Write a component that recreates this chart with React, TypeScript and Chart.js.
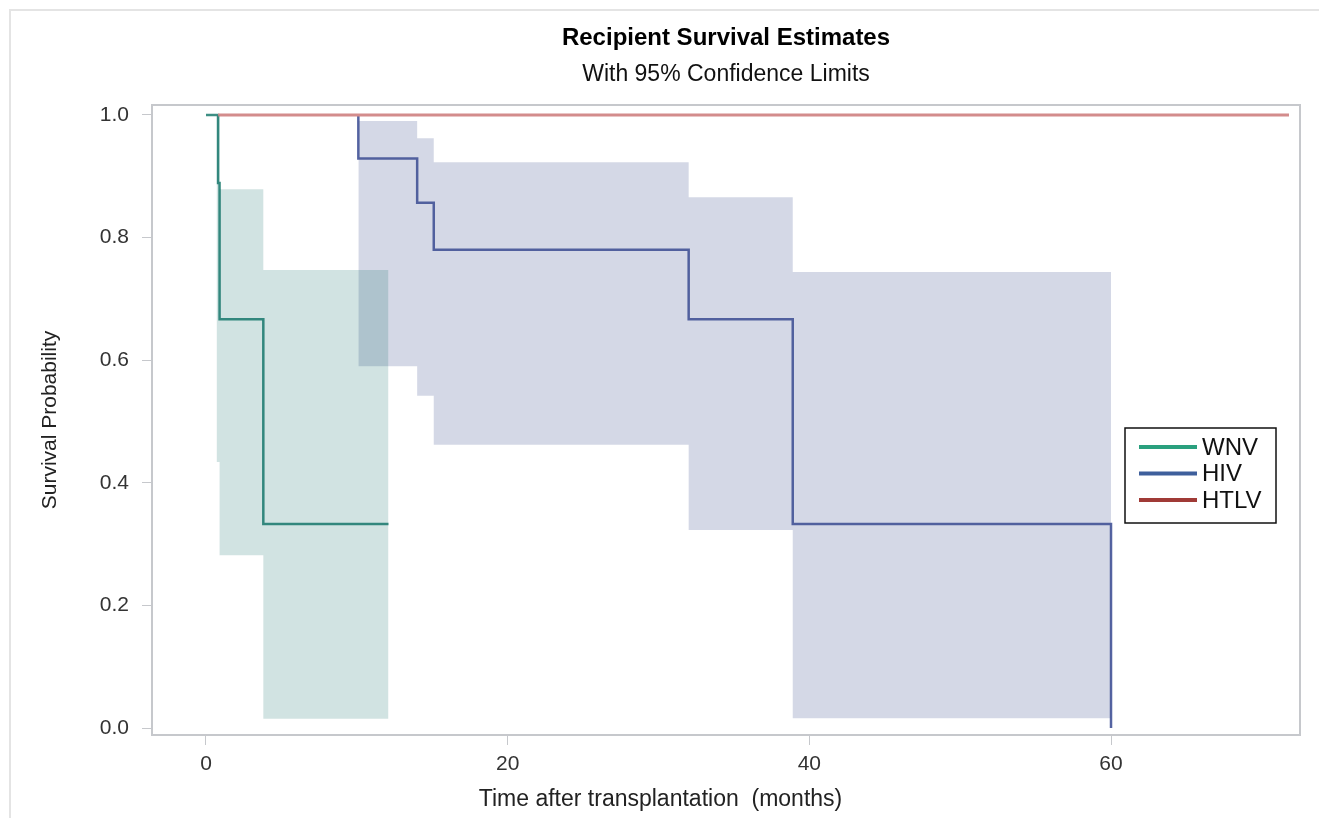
import React, { useEffect, useRef } from "react";
import { Chart, registerables } from "chart.js";

Chart.register(...registerables);

// ---- data ----
const wnvTimes = [0, 0.8, 0.9, 3.8, 12.1];
const wnvSurv = [1.0, 0.889, 0.667, 0.333, 0.333];
const wnvCiTimes = [0.7, 0.9, 3.8, 12.1];
const wnvCiUpper = [1.0, 0.879, 0.747, 0.747];
const wnvCiLower = [0.434, 0.282, 0.015, 0.015];

const hivTimes = [10.1, 10.1, 14.0, 15.1, 32.0, 38.9, 60.0, 60.0];
const hivSurv = [1.0, 0.929, 0.857, 0.78, 0.667, 0.333, 0.333, 0.0];
const hivCiTimes = [10.1, 14.0, 15.1, 32.0, 38.9, 60.0];
const hivCiUpper = [0.99, 0.962, 0.923, 0.866, 0.744, 0.744];
const hivCiLower = [0.59, 0.542, 0.462, 0.323, 0.016, 0.016];

const htlvTimes = [0.8, 71.8];
const htlvSurv = [1.0, 1.0];

const xTicks = [0, 20, 40, 60];
const yTicks = [0, 0.2, 0.4, 0.6, 0.8, 1.0];
const legendLabels = ["WNV", "HIV", "HTLV"];
const legendColors = ["#2aa07e", "#3e5f9c", "#a03a36"];
const xAxisTitle = "Time after transplantation  (months)";

const FONT = "'Liberation Sans', Arial, sans-serif";

const pts = (xs: number[], ys: number[]) => xs.map((x, i) => ({ x, y: ys[i] }));

const framePlugin = {
  id: "frame",
  afterDatasetsDraw(chart: any) {
    const { ctx, chartArea: a } = chart;
    ctx.save();
    ctx.strokeStyle = "#c6c8cc";
    ctx.lineWidth = 2;
    ctx.strokeRect(a.left, a.top, a.right - a.left, a.bottom - a.top);
    ctx.restore();
  },
};

const xTitlePlugin = {
  id: "xTitle",
  afterDraw(chart: any) {
    const { ctx, width } = chart;
    ctx.save();
    ctx.font = `23px ${FONT}`;
    ctx.fillStyle = "#222";
    ctx.textAlign = "center";
    ctx.textBaseline = "middle";
    ctx.fillText(xAxisTitle, width / 2 + 1, 800);
    ctx.restore();
  },
};

const legendPlugin = {
  id: "customLegend",
  afterDraw(chart: any) {
    const { ctx } = chart;
    const bx = 1125, by = 428, bw = 151, bh = 95;
    ctx.save();
    ctx.fillStyle = "#ffffff";
    ctx.fillRect(bx, by, bw, bh);
    ctx.strokeStyle = "#111";
    ctx.lineWidth = 1.5;
    ctx.strokeRect(bx, by, bw, bh);
    ctx.font = `24px ${FONT}`;
    ctx.textBaseline = "middle";
    legendLabels.forEach((lab, i) => {
      const yy = by + 19 + i * 26.5;
      ctx.strokeStyle = legendColors[i];
      ctx.lineWidth = 4;
      ctx.beginPath();
      ctx.moveTo(bx + 14, yy);
      ctx.lineTo(bx + 72, yy);
      ctx.stroke();
      ctx.fillStyle = "#111";
      ctx.fillText(lab, bx + 77, yy + 1);
    });
    ctx.restore();
  },
};

export default function App() {
  const ref = useRef<HTMLCanvasElement | null>(null);
  useEffect(() => {
    document.body.style.margin = "0";
    if (!ref.current) return;
    const chart = new Chart(ref.current, {
      type: "line",
      data: {
        datasets: [
          {
            label: "WNV CI upper",
            data: pts(wnvCiTimes, wnvCiUpper),
            stepped: "before",
            borderWidth: 0,
            borderColor: "rgba(0,0,0,0)",
            backgroundColor: "rgba(1,102,94,0.18)",
            pointRadius: 0,
            fill: "+1",
          },
          {
            label: "WNV CI lower",
            data: pts(wnvCiTimes, wnvCiLower),
            stepped: "before",
            borderWidth: 0,
            borderColor: "rgba(0,0,0,0)",
            pointRadius: 0,
            fill: false,
          },
          {
            label: "HIV CI upper",
            data: pts(hivCiTimes, hivCiUpper),
            stepped: "before",
            borderWidth: 0,
            borderColor: "rgba(0,0,0,0)",
            backgroundColor: "rgba(68,86,148,0.23)",
            pointRadius: 0,
            fill: "+1",
          },
          {
            label: "HIV CI lower",
            data: pts(hivCiTimes, hivCiLower),
            stepped: "before",
            borderWidth: 0,
            borderColor: "rgba(0,0,0,0)",
            pointRadius: 0,
            fill: false,
          },
          {
            label: "HTLV",
            data: pts(htlvTimes, htlvSurv),
            stepped: "before",
            borderWidth: 3,
            borderColor: "#d38c8c",
            pointRadius: 0,
            fill: false,
          },
          {
            label: "WNV",
            data: pts(wnvTimes, wnvSurv),
            stepped: "before",
            borderWidth: 2.5,
            borderColor: "#3d8f84",
            pointRadius: 0,
            fill: false,
          },
          {
            label: "HIV",
            data: pts(hivTimes, hivSurv),
            stepped: "before",
            borderWidth: 2.5,
            borderColor: "#5564a2",
            pointRadius: 0,
            fill: false,
          },
        ],
      },
      options: {
        animation: false,
        responsive: true,
        maintainAspectRatio: false,
        layout: { padding: { left: 30, right: 19, top: 0, bottom: 0 } },
        plugins: {
          legend: { display: false },
          tooltip: { enabled: false },
          title: {
            display: true,
            fullSize: false,
            text: "Recipient Survival Estimates",
            color: "#000",
            font: { family: FONT, size: 24, weight: "bold" },
            padding: { top: 23.6, bottom: 8.8 },
          },
          subtitle: {
            display: true,
            fullSize: false,
            text: "With 95% Confidence Limits",
            color: "#111",
            font: { family: FONT, size: 23 },
            padding: { top: 0, bottom: 16.2 },
          },
        },
        scales: {
          x: {
            type: "linear",
            min: -3.58,
            max: 72.53,
            grid: { display: true, drawOnChartArea: false, drawTicks: true, tickLength: 10, color: "#c6c8cc" },
            border: { display: false },
            ticks: { font: { family: FONT, size: 21 }, color: "#333", padding: 7 },
            afterBuildTicks: (s: any) => {
              s.ticks = xTicks.map((v) => ({ value: v }));
            },
            afterFit: (s: any) => {
              s.height = 83;
            },
            title: { display: false },
          },
          y: {
            type: "linear",
            min: -0.0114,
            max: 1.0163,
            grid: { display: true, drawOnChartArea: false, drawTicks: true, tickLength: 10, color: "#c6c8cc" },
            border: { display: false },
            ticks: {
              font: { family: FONT, size: 21 },
              color: "#333",
              padding: 13,
              callback: (v: any) => Number(v).toFixed(1),
            },
            afterBuildTicks: (s: any) => {
              s.ticks = yTicks.map((v) => ({ value: v }));
            },
            afterFit: (s: any) => {
              s.width = 122;
            },
            title: {
              display: true,
              text: "Survival Probability",
              color: "#222",
              font: { family: FONT, size: 21 },
              padding: { top: 7.4, bottom: 0 },
            },
          },
        },
      },
      plugins: [framePlugin, legendPlugin, xTitlePlugin],
    } as any);
    return () => chart.destroy();
  }, []);

  return (
    <div style={{ position: "relative", width: 1319, height: 818, background: "#fff" }}>
      <div
        style={{
          position: "absolute",
          left: 9,
          top: 9,
          right: 0,
          bottom: 0,
          borderTop: "2px solid #e4e4e4",
          borderLeft: "2px solid #e4e4e4",
          pointerEvents: "none",
        }}
      />
      <canvas ref={ref} style={{ position: "absolute", left: 0, top: 0 }} />
    </div>
  );
}
